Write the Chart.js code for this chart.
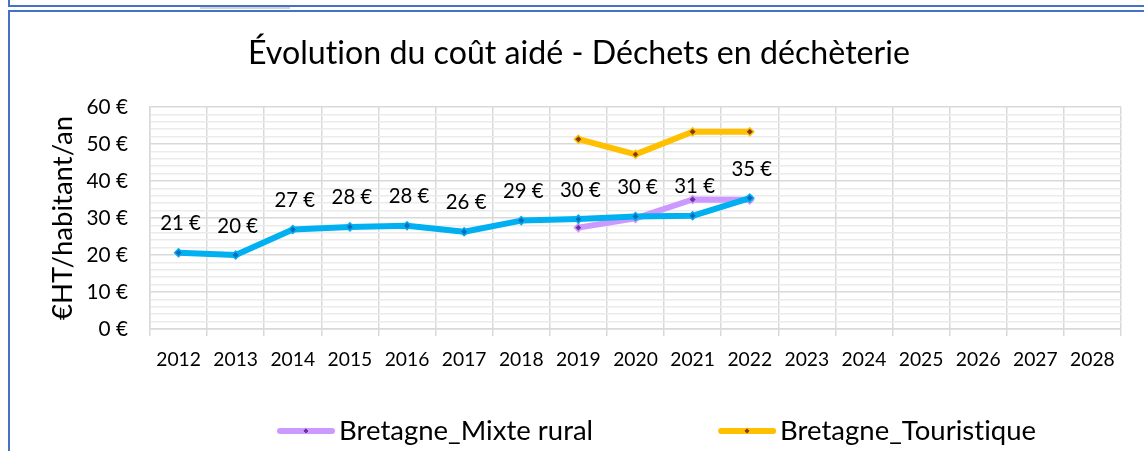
<!DOCTYPE html>
<html><head><meta charset="utf-8">
<script src="https://cdn.jsdelivr.net/npm/chart.js@4/dist/chart.umd.min.js"></script>
<style>
html,body{margin:0;padding:0;background:#fff;}
#wrap{position:relative;width:1144px;height:451px;overflow:hidden;background:#fff;}
.ln{position:absolute;background:#4472c4;}
canvas{position:absolute;left:0;top:0;font-variant-ligatures:none;}
</style></head><body>
<div id="wrap">
<div class="ln" style="left:8px;top:0;width:2px;height:7px"></div>
<div class="ln" style="left:8px;top:5px;right:0;height:2px"></div>
<div style="position:absolute;left:200px;top:7px;width:90px;height:2px;background:#d4d4d4"></div>
<div class="ln" style="left:8px;top:10px;right:0;height:2px"></div>
<div class="ln" style="left:8px;top:10px;width:2px;bottom:0"></div>
<canvas id="c" width="1144" height="451"></canvas>
</div>
<script>
// ---- data ----
const categories = ['2012','2013','2014','2015','2016','2017','2018','2019','2020','2021','2022','2023','2024','2025','2026','2027','2028'];
const territoryLabel = 'Territoire';
const territoryValues = [20.6, 20.0, 26.9, 27.6, 27.9, 26.3, 29.3, 29.7, 30.4, 30.6, 35.4, null, null, null, null, null, null];
const mixteRuralLabel = 'Bretagne_Mixte rural';
const mixteRuralValues = [null, null, null, null, null, null, null, 27.4, 29.9, 35.0, 34.9, null, null, null, null, null, null];
const touristiqueLabel = 'Bretagne_Touristique';
const touristiqueValues = [null, null, null, null, null, null, null, 51.3, 47.2, 53.3, 53.3, null, null, null, null, null, null];
const yTickValues = [0, 10, 20, 30, 40, 50, 60];
const titleText = 'Évolution du coût aidé - Déchets en déchèterie';
const yTitleText = '€HT/habitant/an';

// ---- styling helpers ----
const FAMILY = 'Lato, "Open Sans", sans-serif';
function noLig(ctx) {
  try { ctx.textRendering = 'optimizeSpeed'; } catch (e) {}
  try { ctx.letterSpacing = '0.01px'; } catch (e) {}
}
const mctx = document.createElement('canvas').getContext('2d');
noLig(mctx);
function fitSize(text, target) {
  mctx.font = '100px ' + FAMILY;
  return 100 * target / mctx.measureText(text).width;
}
const titleSize = fitSize(titleText, 662);
const yTickSize = fitSize('60 €', 41.5);
const xTickSize = fitSize('2023', 44.7);
const dataLabelSize = fitSize('21 €', 40.7);
const yTitleSize = fitSize(yTitleText, 204);
const legendSize = fitSize(mixteRuralLabel, 254);
const euro = v => Math.round(v) + ' €';

const noLigaturePlugin = {
  id: 'noLigature',
  beforeDraw(chart) { noLig(chart.ctx); }
};

const valueLabelsPlugin = {
  id: 'valueLabels',
  afterDatasetsDraw(chart, args, opts) {
    const {ctx} = chart;
    const ds = chart.data.datasets[opts.datasetIndex];
    const meta = chart.getDatasetMeta(opts.datasetIndex);
    ctx.save();
    ctx.font = opts.size + 'px ' + FAMILY;
    ctx.fillStyle = opts.color;
    ctx.textAlign = 'center';
    ctx.textBaseline = 'middle';
    meta.data.forEach((el, i) => {
      const v = ds.data[i];
      if (v === null || v === undefined) return;
      ctx.fillText(euro(v), el.x + opts.dx, el.y - opts.dy);
    });
    ctx.restore();
  }
};

function diamond(ctx, x, y, r, fill, stroke, lw) {
  ctx.beginPath();
  ctx.moveTo(x, y - r); ctx.lineTo(x + r, y); ctx.lineTo(x, y + r); ctx.lineTo(x - r, y); ctx.closePath();
  ctx.fillStyle = fill; ctx.fill();
  ctx.lineWidth = lw; ctx.strokeStyle = stroke; ctx.stroke();
}

const legendPlugin = {
  id: 'sideLegend',
  afterDraw(chart, args, opts) {
    const {ctx, chartArea} = chart;
    ctx.save();
    ctx.font = opts.size + 'px ' + FAMILY;
    ctx.textBaseline = 'middle';
    ctx.textAlign = 'left';
    let x = chartArea.left + opts.offset;
    const y = opts.y;
    chart.data.datasets.forEach(ds => {
      if (ds.hideInLegend) return;
      ctx.lineCap = 'round';
      ctx.lineWidth = ds.borderWidth;
      ctx.strokeStyle = ds.borderColor;
      ctx.beginPath();
      ctx.moveTo(x + 3, y); ctx.lineTo(x + opts.sample - 3, y);
      ctx.stroke();
      diamond(ctx, x + opts.sample / 2, y, 3, ds.pointBackgroundColor, ds.pointBorderColor, 1);
      ctx.fillStyle = opts.color;
      ctx.fillText(ds.label, x + opts.sample + opts.gap, y);
      x += opts.sample + opts.gap + ctx.measureText(ds.label).width + opts.spacing;
    });
    ctx.restore();
  }
};

function lineDs(label, data, color, marker, extra) {
  return Object.assign({
    label, data,
    borderColor: color, backgroundColor: color,
    borderWidth: 6, borderCapStyle: 'round', borderJoinStyle: 'round',
    pointStyle: 'rectRot', pointRadius: 4, pointHoverRadius: 4,
    pointBackgroundColor: marker, pointBorderColor: color, pointBorderWidth: 1.5,
    tension: 0, spanGaps: false, fill: false
  }, extra || {});
}

const chart = new Chart(document.getElementById('c'), {
  type: 'line',
  data: {
    labels: categories,
    datasets: [
      lineDs(territoryLabel, territoryValues, '#00B0F0', '#0B6CBD', {hideInLegend: true}),
      lineDs(mixteRuralLabel, mixteRuralValues, '#CC99FF', '#7030A0'),
      lineDs(touristiqueLabel, touristiqueValues, '#FFC000', '#843C0C')
    ]
  },
  options: {
    responsive: false, animation: false, devicePixelRatio: 1,
    layout: {padding: {left: 37, right: 23, top: 0, bottom: 0}},
    events: [],
    plugins: {
      legend: {display: false},
      tooltip: {enabled: false},
      title: {
        display: true, text: titleText, color: '#000',
        font: {family: FAMILY, size: titleSize, weight: 'normal', lineHeight: 1.2},
        padding: {top: 54 - 0.6 * titleSize, bottom: 107 - (54 + 0.6 * titleSize)}
      },
      valueLabels: {datasetIndex: 0, size: dataLabelSize, color: '#000', dx: 2, dy: 29},
      sideLegend: {size: legendSize, color: '#000', offset: 127, sample: 58, gap: 4, spacing: 125, y: 431}
    },
    scales: {
      x: {
        offset: true,
        grid: {offset: true, color: '#d9d9d9', lineWidth: 1.5, tickLength: 7, tickColor: '#d9d9d9'},
        border: {color: '#d9d9d9', width: 1.5},
        ticks: {color: '#000', font: {family: FAMILY, size: xTickSize}, padding: 359.5 - 336 - 0.6 * xTickSize, maxRotation: 0, autoSkip: false},
        afterFit: s => { s.height = 451 - 329; }
      },
      y: {
        min: 0, max: 60,
        ticks: {
          stepSize: 2, autoSkip: false,
          callback: v => yTickValues.includes(v) ? v + ' €' : '',
          color: '#000', font: {family: FAMILY, size: yTickSize}, padding: 22
        },
        grid: {drawTicks: false, lineWidth: 1.5,
          color: c => (c.tick && yTickValues.includes(c.tick.value)) ? '#d9d9d9' : '#ebebeb'},
        border: {color: '#d9d9d9', width: 1.5},
        title: {display: true, text: yTitleText, color: '#000',
          font: {family: FAMILY, size: yTitleSize, weight: 'normal', lineHeight: 1.2},
          padding: {top: 63 - 37 - 0.6 * yTitleSize, bottom: 0}},
        afterFit: s => { s.width = 150 - 37; }
      }
    }
  },
  plugins: [noLigaturePlugin, valueLabelsPlugin, legendPlugin]
});
</script>
</body></html>
